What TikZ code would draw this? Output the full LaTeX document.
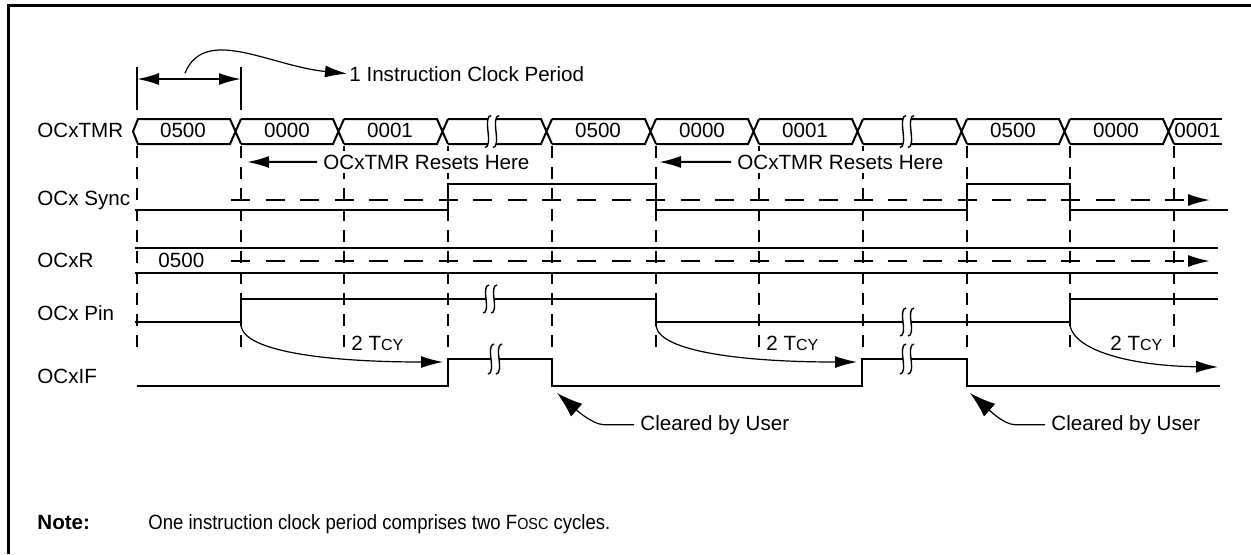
\documentclass[tikz,border=0pt]{standalone}
\usepackage{fontspec}
\setmainfont{Liberation Sans}
\usetikzlibrary{arrows.meta}

\newcommand\lowcap[1]{{\fontsize{8}{9}\selectfont #1}}
% break mark: two wavy strokes with the line cut between them
\newcommand\snip[3]{%
  \fill[white] ({#1+3},{#2-#3/2}) .. controls ({#1-1},{#2-#3/2}) and ({#1-1},{#2-#3/4}) .. (#1,#2)
     .. controls ({#1+1},{#2+#3/4}) and ({#1+1},{#2+#3/2}) .. ({#1-3},{#2+#3/2})
     -- ({#1+5},{#2+#3/2}) .. controls ({#1+9},{#2+#3/2}) and ({#1+9},{#2+#3/4}) .. ({#1+8},#2)
     .. controls ({#1+7},{#2-#3/4}) and ({#1+7},{#2-#3/2}) .. ({#1+11},{#2-#3/2}) -- cycle;
  \draw[wave] ({#1+3},{#2-#3/2}) .. controls ({#1-1},{#2-#3/2}) and ({#1-1},{#2-#3/4}) .. (#1,#2)
     .. controls ({#1+1},{#2+#3/4}) and ({#1+1},{#2+#3/2}) .. ({#1-3},{#2+#3/2});
  \draw[wave] ({#1+11},{#2-#3/2}) .. controls ({#1+7},{#2-#3/2}) and ({#1+7},{#2-#3/4}) .. ({#1+8},#2)
     .. controls ({#1+9},{#2+#3/4}) and ({#1+9},{#2+#3/2}) .. ({#1+5},{#2+#3/2});
}

\tikzset{
  sig/.style={line width=1pt},
  wave/.style={line width=0.7pt},
  guide/.style={line width=1pt, dash pattern=on 6pt off 4.5pt},
  level/.style={line width=1pt, dash pattern=on 9.5pt off 7.8pt, -{Latex[length=11pt,width=6pt]}},
  curl/.style={line width=0.6pt, -{Latex[length=11pt,width=6pt]}},
  poke/.style={line width=0.6pt, -{Latex[length=13pt,width=8.5pt]}},
  tag/.style={font=\fontsize{10.3}{12}\selectfont, inner sep=0pt, anchor=base west},
  val/.style={font=\fontsize{10.3}{12}\selectfont, inner sep=0pt, anchor=base},
}

\begin{document}
\begin{tikzpicture}[x=0.5pt, y=-0.5pt]
  \useasboundingbox (0,0) rectangle (1251,554);

  % frame
  \draw[line width=1.5pt] (1251,5) -- (8,5) -- (8,554);

  % instruction period
  \draw[sig] (137,67) -- (137,110);
  \draw[sig] (241,67) -- (241,110);
  \coordinate (perA) at (137,79);
  \coordinate (perB) at (241,79);
  \draw[sig, {Latex[length=11pt,width=6pt]}-{Latex[length=11pt,width=6pt]}] (perA) -- (perB);
  \node[tag] (clk) at (349,81) {1 Instruction Clock Period};
  \coordinate (clkfoot) at (185,73);
  \draw[curl] (clkfoot) .. controls (205,25) and (270,66) .. ([xshift=-1pt]clk.west);

  % row names
  \node[tag] (lbTMR)  at (37,137) {OCxTMR};
  \node[tag] (lbSync) at (37,205) {OCx Sync};
  \node[tag] (lbR)    at (37,267) {OCxR};
  \node[tag] (lbPin)  at (37,320) {OCx Pin};
  \node[tag] (lbIF)   at (37,383) {OCxIF};

  % guides
  \foreach \gx in {137,241,344,448,552,656,759,863,967,1070,1174}
    \draw[guide] (\gx,146) -- (\gx,352);

  % OCxTMR bus
  \draw[sig] (138,119) -- (133,131.5) -- (138,144);
  \foreach \a/\b/\v in {137/241/0500, 241/344/0000, 344/448/0001, 448/552/{}, 552/656/0500,
                        656/759/0000, 759/863/0001, 863/967/{}, 967/1070/0500, 1070/1174/0000} {
    \draw[sig] (\a,119) -- ({\b-11},119) -- (\b,144) (\a,144) -- ({\b-11},144) -- (\b,119);
    \node[val] (seg\a) at ({\a+46},137) {\v};
  }
  \draw[sig] (1174,119) -- (1222,119) (1174,144) -- (1222,144);
  \node[tag] (seg1174) at (1174,137) {0001};
  \snip{488}{131.5}{32}
  \snip{903}{131.5}{32}

  % resets
  \node[tag, fill=white, inner sep=2pt] (rst1) at (319,169) {OCxTMR Resets Here};
  \node[tag, fill=white, inner sep=2pt] (rst2) at (733,169) {OCxTMR Resets Here};
  \coordinate (rstA) at (247,162);
  \coordinate (rstB) at (659,162);
  \draw[sig, -{Latex[length=11pt,width=6pt]}] ([xshift=-1pt]rst1.west) -- (rstA);
  \draw[sig, -{Latex[length=11pt,width=6pt]}] ([xshift=-1pt]rst2.west) -- (rstB);

  % OCx Sync
  \draw[sig] (135,210) -- (448,210) -- (448,184) -- (656,184) -- (656,210)
    -- (967,210) -- (967,184) -- (1070,184) -- (1070,210) -- (1228,210);
  \coordinate (syncS) at (231,200);
  \coordinate (syncE) at (1210,200);
  \draw[level] (syncS) -- (syncE);

  % OCxR
  \draw[sig] (135,248) -- (1218,248) (135,273) -- (1218,273);
  \node[tag] (rval) at (158,267) {0500};
  \coordinate (regS) at (231,261);
  \coordinate (regE) at (1210,261);
  \draw[level] (regS) -- (regE);

  % OCx Pin
  \draw[sig] (135,322) -- (241,322) -- (241,299) -- (656,299) -- (656,322)
    -- (1070,322) -- (1070,299) -- (1218,299);
  \snip{486}{299}{28}
  \snip{903}{322}{28}

  % OCxIF
  \draw[sig] (137,386) -- (448,386) -- (448,359) -- (552,359) -- (552,386)
    -- (862,386) -- (862,359) -- (967,359) -- (967,386) -- (1220,386);
  \snip{491}{359}{30}
  \snip{903}{359}{30}

  % 2 Tcy delays
  \coordinate (pinA) at (241,326);
  \coordinate (ifA) at (443,362);
  \coordinate (pinB) at (656,326);
  \coordinate (ifB) at (857,362);
  \coordinate (pinC) at (1070,326);
  \coordinate (ifC) at (1218,367);
  \draw[curl] (pinA) .. controls (245,352) and (330,362) .. (ifA);
  \draw[curl] (pinB) .. controls (660,352) and (745,362) .. (ifB);
  \draw[curl] (pinC) .. controls (1076,352) and (1135,366) .. (ifC);
  \node[tag] (tc1) at (351,350) {2 T\lowcap{CY}};
  \node[tag] (tc2) at (766,350) {2 T\lowcap{CY}};
  \node[tag] (tc3) at (1110,350) {2 T\lowcap{CY}};

  % cleared by user
  \node[tag] (clr1) at (640,430) {Cleared by User};
  \node[tag] (clr2) at (1051,430) {Cleared by User};
  \coordinate (ifdnA) at (557,393);
  \coordinate (ifdnB) at (970,393);
  \draw[poke] ([xshift=-3pt]clr1.west) -- ++(-30,0) .. controls +(-12,0) and +(16,14) .. (ifdnA);
  \draw[poke] ([xshift=-3pt]clr2.west) -- ++(-30,0) .. controls +(-12,0) and +(16,14) .. (ifdnB);

  % note
  \node[tag] (note) at (37,529) {\textbf{Note:}};
  \node[tag] (notetxt) at (148,529) {\scalebox{0.9}[1]{One instruction clock period comprises two F\lowcap{OSC} cycles.}};
\end{tikzpicture}
\end{document}
